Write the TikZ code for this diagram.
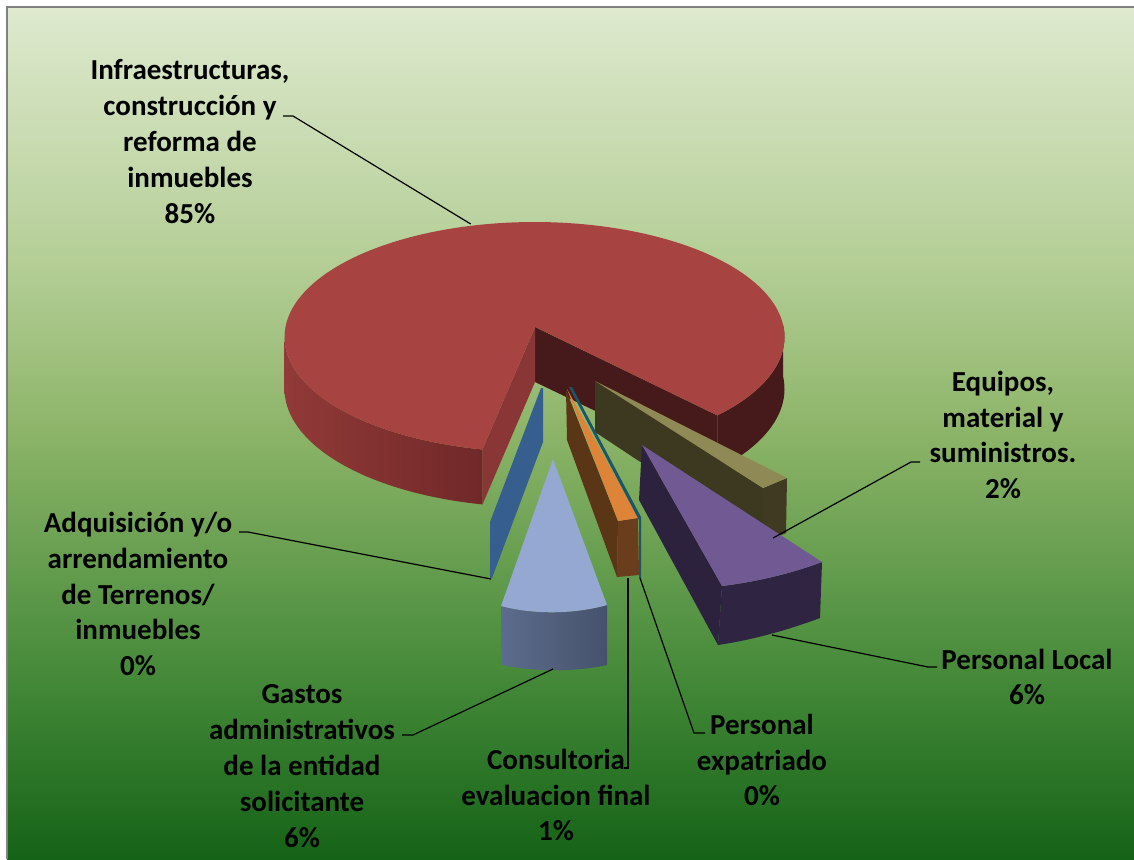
\documentclass[tikz,border=0pt]{standalone}
\usepackage{fontspec}
\setmainfont{Carlito}
\definecolor{bgA}{RGB}{21,99,23}
\definecolor{bgB}{RGB}{70,138,58}
\definecolor{bgC}{RGB}{140,180,104}
\definecolor{bgD}{RGB}{180,206,150}
\definecolor{bgE}{RGB}{222,233,206}
\definecolor{frameGray}{RGB}{128,128,128}
\definecolor{redTop}{RGB}{167,68,66}
\definecolor{redRimL}{RGB}{145,58,56}
\definecolor{redRimR}{RGB}{112,40,40}
\definecolor{redCut}{RGB}{139,54,54}
\definecolor{redDark}{RGB}{70,26,26}
\definecolor{blueSl}{RGB}{54,94,142}
\definecolor{lbTop}{RGB}{149,168,210}
\definecolor{lbFrontL}{RGB}{92,108,140}
\definecolor{lbFrontR}{RGB}{70,82,108}
\definecolor{orTop}{RGB}{222,132,56}
\definecolor{orCut}{RGB}{91,54,22}
\definecolor{orFront}{RGB}{106,62,28}
\definecolor{tealSl}{RGB}{30,85,100}
\definecolor{puTop}{RGB}{113,89,147}
\definecolor{puCut}{RGB}{44,34,62}
\definecolor{puFront}{RGB}{47,36,66}
\definecolor{olTop}{RGB}{143,137,85}
\definecolor{olCut}{RGB}{61,56,32}
\definecolor{olFront}{RGB}{64,58,34}
\pgfdeclareverticalshading{bgshade}{100bp}{color(0bp)=(bgA); color(25bp)=(bgA); color(36bp)=(bgB); color(50bp)=(bgC); color(60bp)=(bgD); color(75bp)=(bgE); color(100bp)=(bgE)}
\tikzset{
  lbl/.style={font=\fontsize{29}{35.8}\selectfont\bfseries, align=center, inner sep=0pt, text=black},
  leader/.style={draw=black, line width=1.2pt},
}
\begin{document}
\begin{tikzpicture}[x=1pt,y=-1pt]
\useasboundingbox (0,0) rectangle (1134,859);
\fill[white] (0,0) rectangle (1134,859);
\shade[shading=bgshade] (7,7) rectangle (1134,859);
\draw[frameGray, line width=2pt] (7,859) -- (7,7) -- (1134,7);

% ---- big red slice ----
\shade[left color=redRimL, right color=redRimR]
  plot[domain=180:258,samples=60] ({534.5+250*cos(\x)},{337-115*sin(\x)})
  -- plot[domain=258:180,samples=60] ({534.5+250*cos(\x)},{389-118*sin(\x)}) -- cycle;
\fill[redDark]
  plot[domain=-43:6,samples=40] ({534.5+250*cos(\x)},{337-115*sin(\x)})
  -- plot[domain=6:-43,samples=40] ({534.5+250*cos(\x)},{389-118*sin(\x)}) -- cycle;
\fill[redDark] (535,327) -- (717.3,415.4) -- (717.3,469.5) -- (535,382) -- cycle;
\fill[redCut] (535,327) -- (482.5,449.5) -- (482.5,504.4) -- (535,382) -- cycle;
\fill[redTop] (535,327) -- (717.3,415.4)
  -- plot[domain=-43:258,samples=150] ({534.5+250*cos(\x)},{337-115*sin(\x)}) -- cycle;

% ---- olive slice (Equipos) ----
\fill[olCut] (595,381) -- (595,432) -- (763,543) -- (763,488) -- cycle;
\fill[olFront] (763,488) -- (787,478) -- (786,533) -- (763,543) -- cycle;
\fill[olTop] (595,381) -- (763,488) -- (787,478) -- cycle;

% ---- blue sliver (Adquisicion) ----
\fill[blueSl] (541,388) -- (543,388) -- (543,442) -- (492,578) -- (490,578) -- (490,522) -- cycle;

% ---- orange slice (Consultoria) ----
\fill[orCut] (566,390) -- (567,440) -- (617,577) -- (618,521) -- cycle;
\fill[orFront] (618,521) -- (638,518) -- (639,575) -- (617,577) -- cycle;
\fill[orTop] (567,389) -- (618,521) -- (638,518) -- cycle;
% ---- teal sliver (Personal expatriado) ----
\fill[tealSl] (569,387) -- (572,387) -- (641,517) -- (641,578) -- (639,578) -- (639,520) -- cycle;

% ---- light blue slice (Gastos) ----
\shade[left color=lbFrontL, right color=lbFrontR]
  (501,606) .. controls (535,615) and (575,614) .. (607,605)
  -- (607,665) .. controls (575,672) and (535,672) .. (502,665) -- cycle;
\fill[lbTop] (553,459) -- (501,606) .. controls (535,615) and (575,614) .. (607,605) -- cycle;

% ---- purple slice (Personal Local) ----
\fill[puCut] (642,445) -- (639,500) -- (718,645) -- (722,586) -- cycle;
\fill[puFront] (722,586) .. controls (755,582) and (790,574) .. (822,562)
  -- (820,618) .. controls (788,630) and (752,640) .. (718,645) -- cycle;
\fill[puTop] (642,445) -- (722,586) .. controls (755,582) and (790,574) .. (822,562) -- cycle;

% ---- labels ----
\node[lbl] (infra) at (190,141.5) {Infraestructuras,\\construcción y\\reforma de\\inmuebles\\85\%};
\node[lbl] (equip) at (1003,435) {Equipos,\\material y\\suministros.\\2\%};
\node[lbl] (adq) at (138,594) {Adquisición y/o\\arrendamiento\\de Terrenos/\\inmuebles\\0\%};
\node[lbl] (gastos) at (302,766) {Gastos\\administrativos\\de la entidad\\solicitante\\6\%};
\node[lbl] (consul) at (556,795) {Consultoria\\evaluacion final\\1\%};
\node[lbl] (expat) at (762,760) {Personal\\expatriado\\0\%};
\node[lbl] (local) at (1027,677) {Personal Local\\6\%};

% ---- leader coordinates ----
\coordinate (infraA) at (470.7,224);
\coordinate (infraB) at (293,116);
\coordinate (infraC) at (283,116);
\coordinate (adqA) at (491,579);
\coordinate (adqB) at (248,532);
\coordinate (adqC) at (239,532);
\coordinate (gasA) at (553,669);
\coordinate (gasB) at (413,735);
\coordinate (gasC) at (402,735);
\coordinate (conA) at (628,578);
\coordinate (conB) at (628,768);
\coordinate (conC) at (624,768);
\coordinate (expA) at (640,578);
\coordinate (expB) at (694,733);
\coordinate (expC) at (705,733);
\coordinate (locA) at (772,635);
\coordinate (locB) at (928,667);
\coordinate (locC) at (937,667);
\coordinate (equA) at (773,538);
\coordinate (equB) at (911,462);
\coordinate (equC) at (920,462);

\draw[leader] (infraA) -- (infraB) -- (infraC);
\draw[leader] (adqA) -- (adqB) -- (adqC);
\draw[leader] (gasA) -- (gasB) -- (gasC);
\draw[leader] (conA) -- (conB) -- (conC);
\draw[leader] (expA) -- (expB) -- (expC);
\draw[leader] (locA) -- (locB) -- (locC);
\draw[leader] (equA) -- (equB) -- (equC);
\end{tikzpicture}
\end{document}
